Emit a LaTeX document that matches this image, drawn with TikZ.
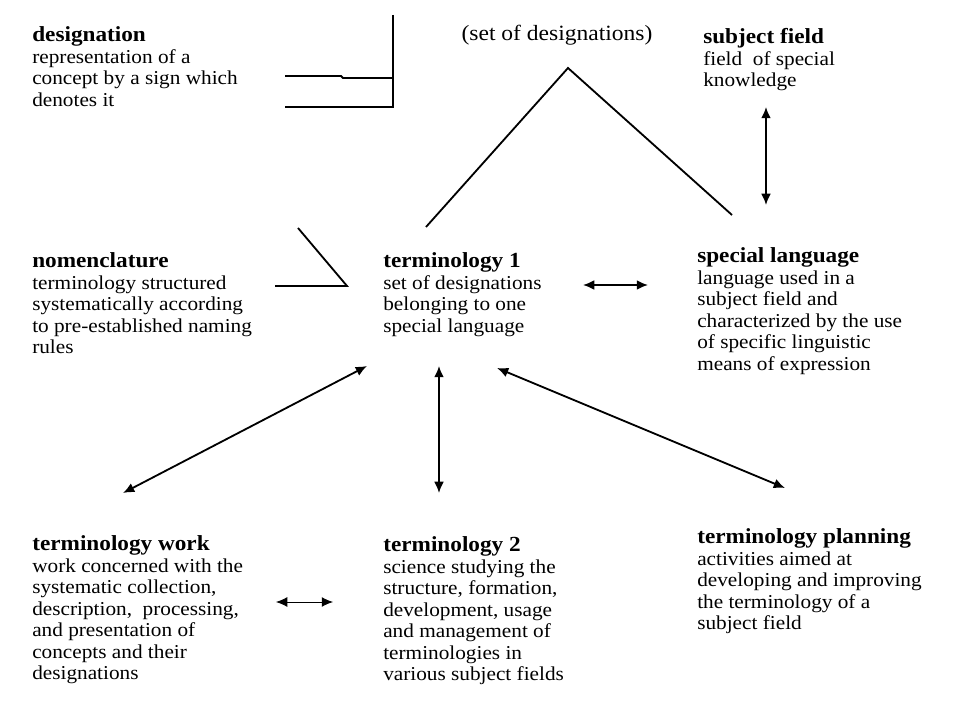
\documentclass[tikz,border=0pt]{standalone}
\usepackage{fontspec}
\setmainfont{Liberation Serif}[FakeStretch=1.08]
\usepackage{tikz}
\usetikzlibrary{positioning}
\usetikzlibrary{arrows.meta}

\newcommand{\conhead}[1]{{\fontsize{15.3}{15.3}\selectfont\bfseries #1}}

\tikzset{
  concept/.style={anchor=north west,inner sep=0pt,align=left,
    font=\fontsize{14}{15.3}\selectfont},
  plainline/.style={line width=1.3pt},
  link/.style={line width=1.3pt,{Latex[length=8pt,width=7pt]}-{Latex[length=8pt,width=7pt]}},
  thinlink/.style={line width=0.6pt,{Latex[length=8pt,width=7pt]}-{Latex[length=8pt,width=7pt]}}
}

\begin{document}
\begin{tikzpicture}[x=0.025cm,y=-0.025cm]
\fill[white] (0,0) rectangle (960,720);
\useasboundingbox (0,0) rectangle (960,720);

% concepts
\node[concept] (desig) at (32,26.4) {\conhead{designation}\\representation of a\\concept by a sign which\\denotes it};
\node[anchor=base,inner sep=0pt,font=\fontsize{15.5}{16}\selectfont] (setdes) at (557,41) {(set of designations)};
\node[concept] (subj) at (703,28.4) {\conhead{subject field}\\field\ \ of special\\knowledge};
\node[concept] (nomen) at (32,252.4) {\conhead{nomenclature}\\terminology structured\\systematically according\\to pre-established naming\\rules};
\node[concept] (term1) at (383,252.4) {\conhead{terminology 1}\\set of designations\\belonging to one\\special language};
\node[concept] (speclang) at (697,247.4) {\conhead{special language}\\language used in a\\subject field and\\characterized by the use\\of specific linguistic\\means of expression};
\node[concept] (termwork) at (32,535.4) {\conhead{terminology work}\\work concerned with the\\systematic collection,\\description,\ \ processing,\\and presentation of\\concepts and their\\designations};
\node[concept] (term2) at (383,536.4) {\conhead{terminology 2}\\science studying the\\structure, formation,\\development, usage\\and management of\\terminologies in\\various subject fields};
\node[concept] (termplan) at (697,528.4) {\conhead{terminology planning}\\activities aimed at\\developing and improving\\the terminology of a\\subject field};

% line ends
\coordinate (brtop) at (393,15);
\coordinate (brmid) at (393,78);
\coordinate (brbot) at (393,107);
\coordinate (peak) at (568,68);
\coordinate (peakl) at (426,227);
\coordinate (peakr) at (732,215);
\coordinate (nomtip) at (347,286);

% bracket next to designation
\draw[plainline] (brtop) -- (brbot) -- (285,107);
\draw[plainline] (brmid) -- (343,78) -- (341,76) -- (285,76);
% angle next to nomenclature
\draw[plainline] (298,228) -- (nomtip) -- (275,286);
% roof under set of designations
\draw[plainline] (peakl) -- (peak) -- (peakr);

% relations
\draw[link] (766,107) -- (766,205);
\draw[link] (583,285) -- (648,285);
\draw[link] (367,366) -- (123,493);
\draw[link] (439,366) -- (439,493);
\draw[link] (497,368) -- (785,488);
\draw[thinlink] (276,602) -- (333,602);
\end{tikzpicture}
\end{document}
